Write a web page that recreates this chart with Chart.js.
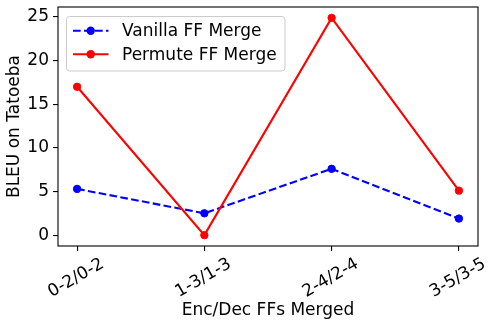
<!DOCTYPE html>
<html><head><meta charset="utf-8">
<script src="https://cdn.jsdelivr.net/npm/chart.js@4"></script>
<style>html,body{margin:0;padding:0;background:#fff;} canvas{display:block;}</style>
</head><body>
<canvas id="c" width="498" height="328"></canvas>
<script>
const categories = ['0-2/0-2', '1-3/1-3', '2-4/2-4', '3-5/3-5'];
const vanilla = [5.3, 2.5, 7.6, 1.9];
const permute = [17.0, 0.0, 24.9, 5.1];
const yTicks = [0, 5, 10, 15, 20, 25];
const seriesNames = ['Vanilla FF Merge', 'Permute FF Merge'];
const xTitle = 'Enc/Dec FFs Merged';
const yTitle = 'BLEU on Tatoeba';

const FAM = '"DejaVu Sans", sans-serif';
const FS = 17;
const FONT = FS + 'px ' + FAM;
const all = vanilla.concat(permute);
const dMin = Math.min(...all), dMax = Math.max(...all);
const yPad = 0.05 * (dMax - dMin);
const xPad = 0.05 * (categories.length - 1);

const colors = ['#0000ff', '#ff0000'];
const dashes = [[7.7, 3.3], []];

const deco = {
  id: 'deco',
  afterDraw(chart) {
    const {ctx, chartArea: a, scales: {x}} = chart;
    ctx.save();
    // frame
    ctx.strokeStyle = '#000'; ctx.lineWidth = 1.1;
    ctx.strokeRect(a.left, a.top, a.right - a.left, a.bottom - a.top);
    // x tick labels, rotated and centered like matplotlib
    ctx.font = FONT; ctx.fillStyle = '#000';
    ctx.textAlign = 'center'; ctx.textBaseline = 'middle';
    categories.forEach((c, i) => {
      const px = x.getPixelForValue(i);
      ctx.save();
      ctx.translate(px - 1, a.bottom + 32);
      ctx.rotate(-Math.PI / 6);
      ctx.fillText(c, 0, 0);
      ctx.restore();
    });
    // legend
    const lx = a.left + 8.5, ly = a.top + 9.5, lw = 218.5, lh = 54.5;
    ctx.beginPath();
    ctx.roundRect(lx, ly, lw, lh, 3);
    ctx.fillStyle = 'rgba(255,255,255,0.8)'; ctx.fill();
    ctx.strokeStyle = '#cccccc'; ctx.lineWidth = 1; ctx.stroke();
    const rows = [a.top + 23.7, a.top + 47.3];
    seriesNames.forEach((n, i) => {
      const ry = rows[i];
      ctx.strokeStyle = colors[i]; ctx.lineWidth = 2.1;
      ctx.setLineDash(dashes[i]);
      ctx.beginPath(); ctx.moveTo(a.left + 15, ry); ctx.lineTo(a.left + 50.5, ry); ctx.stroke();
      ctx.setLineDash([]);
      ctx.fillStyle = colors[i];
      ctx.beginPath(); ctx.arc(a.left + 32.7, ry, 4.2, 0, Math.PI * 2); ctx.fill();
      ctx.fillStyle = '#000'; ctx.textAlign = 'left'; ctx.textBaseline = 'middle';
      ctx.fillText(n, a.left + 64, ry + 1);
    });
    ctx.restore();
  }
};

const mk = (name, vals, i) => ({
  label: name,
  data: vals.map((v, k) => ({x: k, y: v})),
  borderColor: colors[i],
  backgroundColor: colors[i],
  borderWidth: 2.1,
  borderDash: dashes[i],
  pointRadius: 3.7,
  pointBorderWidth: 1,
  pointBackgroundColor: colors[i],
  pointBorderColor: colors[i],
  tension: 0,
  order: 1 - i
});

new Chart(document.getElementById('c'), {
  type: 'line',
  data: {datasets: [mk(seriesNames[0], vanilla, 0), mk(seriesNames[1], permute, 1)]},
  options: {
    responsive: false,
    animation: false,
    devicePixelRatio: 1,
    layout: {padding: {top: 7, right: 20, bottom: 0, left: 0}},
    plugins: {legend: {display: false}, tooltip: {enabled: false}},
    scales: {
      x: {
        type: 'linear',
        min: -xPad, max: categories.length - 1 + xPad,
        afterBuildTicks: s => { s.ticks = categories.map((c, i) => ({value: i})); },
        afterFit: s => { s.height = 82; s.paddingLeft = 0; s.paddingRight = 0; },
        ticks: {display: false},
        grid: {drawOnChartArea: false, drawTicks: true, tickLength: 5, color: '#000', lineWidth: 1.1},
        border: {display: false},
        title: {display: true, text: xTitle, color: '#000', font: {family: FAM, size: FS}, padding: {top: 0, bottom: 7}}
      },
      y: {
        type: 'linear',
        min: dMin - yPad, max: dMax + yPad,
        afterBuildTicks: s => { s.ticks = yTicks.map(v => ({value: v})); },
        afterFit: s => { s.width = 58; s.paddingTop = 0; s.paddingBottom = 0; },
        ticks: {color: '#000', font: {family: FAM, size: FS}, padding: 4, callback: v => String(v)},
        grid: {drawOnChartArea: false, drawTicks: true, tickLength: 5, color: '#000', lineWidth: 1.1},
        border: {display: false},
        title: {display: true, text: yTitle, color: '#000', font: {family: FAM, size: FS}, padding: {top: 4.3, bottom: 0}}
      }
    }
  },
  plugins: [deco]
});
</script>
</body></html>
